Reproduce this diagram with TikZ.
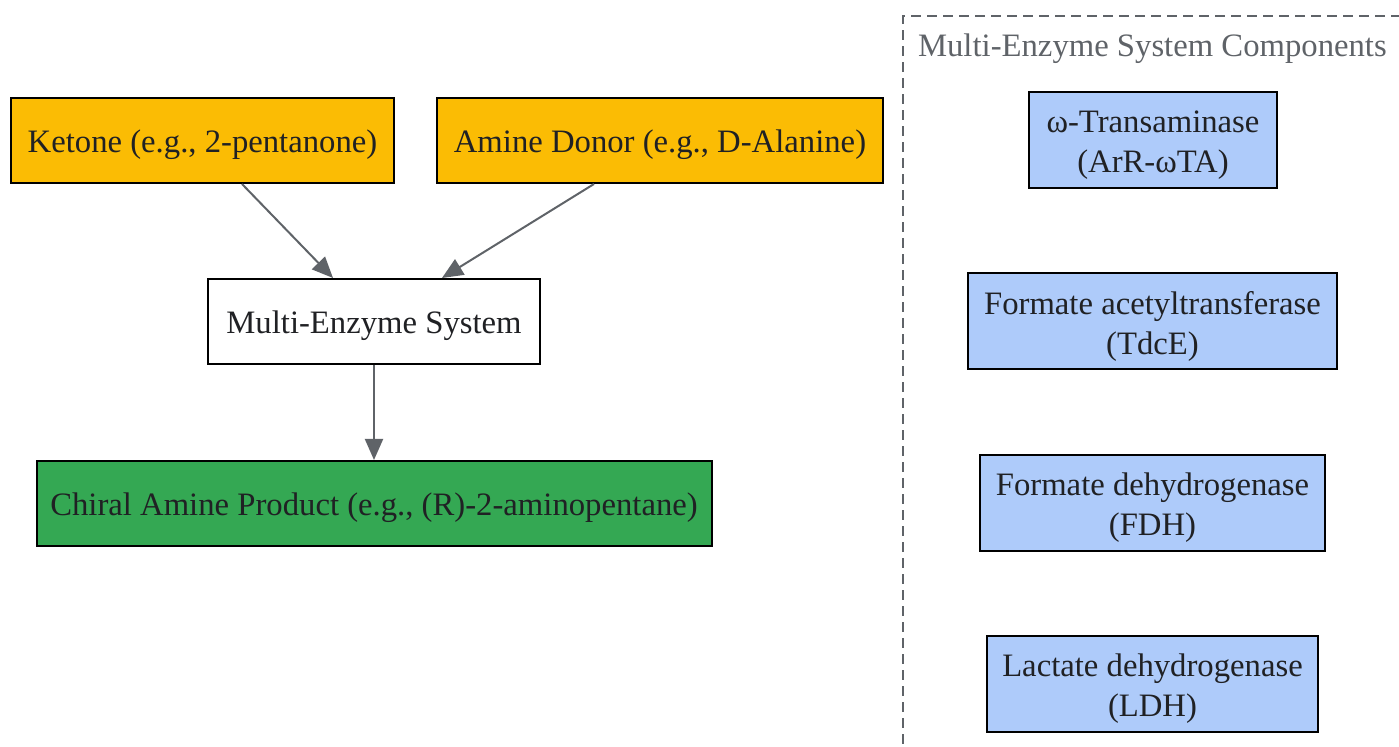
\documentclass[tikz,border=0pt]{standalone}
\usepackage{fontspec}
\setmainfont{Liberation Serif}
\usepackage{tikz}
\usetikzlibrary{arrows.meta,positioning}

\definecolor{inputcol}{HTML}{FBBC04}
\definecolor{productcol}{HTML}{34A853}
\definecolor{enzymecol}{HTML}{AECBFA}
\definecolor{textcol}{HTML}{202124}
\definecolor{edgecol}{HTML}{5F6368}

\begin{document}
\begin{tikzpicture}[x=0.5pt, y=-0.5pt,
  box/.style={rectangle, draw=black, line width=1pt, text=textcol, inner sep=0pt, align=center,
    font=\fontsize{16.35}{20}\selectfont, minimum height=42.5pt, text height=15pt, text depth=3.4pt},
  inbox/.style={box, fill=inputcol},
  enzbox/.style={box, fill=enzymecol, minimum height=48pt, text height=36.4pt},
  flow/.style={-{Triangle[length=10.5pt,width=9pt]}, draw=edgecol, line width=1pt}]
  \useasboundingbox (0,0) rectangle (1399,747);
  % cluster frame
  \draw[edgecol, line width=1pt, dash pattern=on 5pt off 3pt] (903,760) |- (1420,16);
  \node[text=edgecol, font=\fontsize{16.35}{20}\selectfont, anchor=west] (clabel) at (911,49) {Multi-Enzyme System Components};
  % main pathway
  \node[inbox, minimum width=191.5pt] (ketone) at (202.5,140.5) {Ketone (e.g., 2-pentanone)};
  \node[inbox, minimum width=223pt] (donor) at (660,140.5) {Amine Donor (e.g., D-Alanine)};
  \node[box, fill=white, minimum width=166pt] (mes) at (374,321.5) {Multi-Enzyme System};
  \node[box, fill=productcol, minimum width=337.5pt] (product) at (374,503.5) {Chiral Amine Product (e.g., (R)-2-aminopentane)};
  \draw[flow] (ketone.south -| 242,0) -- (mes.north -| 333,0);
  \draw[flow] (donor.south -| 594,0) -- (mes.north -| 442,0);
  \draw[flow] (mes.south) -- (product.north);
  % enzyme components
  \node[enzbox, minimum width=124pt] (omegata) at (1153,140) {ω-Transaminase\\(ArR-ωTA)};
  \node[enzbox, minimum width=184.5pt] (tdce) at (1152.5,321.5) {Formate acetyltransferase\\(TdcE)};
  \node[enzbox, minimum width=172.5pt] (fdh) at (1152.5,503) {Formate dehydrogenase\\(FDH)};
  \node[enzbox, minimum width=165.5pt] (ldh) at (1152.5,684) {Lactate dehydrogenase\\(LDH)};
\end{tikzpicture}
\end{document}
